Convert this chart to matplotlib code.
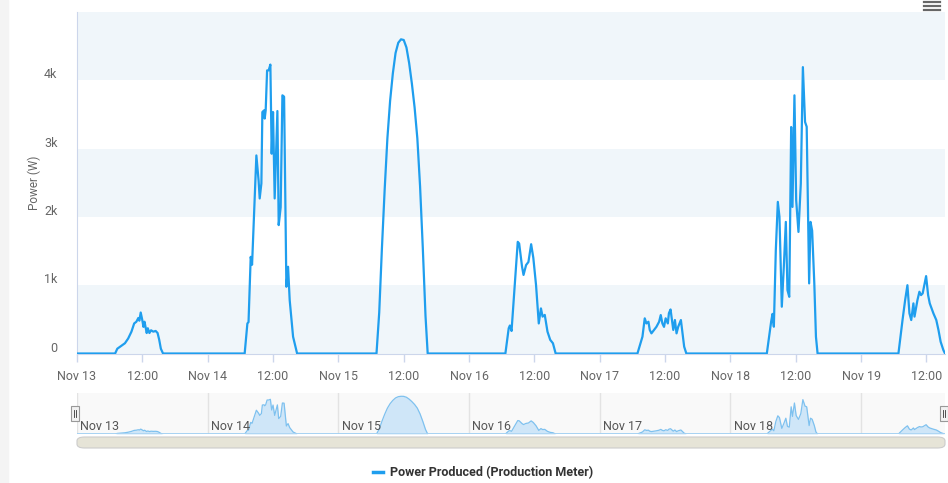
import numpy as np
import matplotlib
matplotlib.use('Agg')
import matplotlib.pyplot as plt
from matplotlib.patches import Rectangle, FancyBboxPatch
from matplotlib.lines import Line2D
from matplotlib.transforms import ScaledTranslation

plt.rcParams['font.family'] = ['Roboto', 'DejaVu Sans']

# ── DATA (hour of day, watts) ─────────────────────────────
DAY_LABELS = ['Nov 13', 'Nov 14', 'Nov 15', 'Nov 16', 'Nov 17', 'Nov 18', 'Nov 19']

nov13_h = [0, 7.0, 7.4, 8.8, 9.4, 10.0, 10.5, 10.9, 11.26, 11.45, 11.7, 11.99, 12.2, 12.4,
           12.8, 13.0, 13.3, 13.6, 14.0, 14.45, 14.8, 15.1, 15.4, 15.8]
nov13_w = [0, 0, 70, 150, 220, 320, 440, 465, 520, 480, 600, 490, 390, 465,
           300, 370, 300, 340, 320, 330, 300, 200, 70, 0]

nov14_h = [6.79, 7.29, 7.5, 7.90, 8.15, 8.94, 9.35, 9.55, 9.86, 10.04, 10.36, 10.47, 10.65,
           10.91, 11.20, 11.51, 11.75, 12.0, 12.30, 12.80, 13.04, 13.40, 13.72, 14.03,
           14.45, 14.76, 15.06, 15.68, 16.42]
nov14_w = [0, 440, 460, 1415, 1300, 2900, 2530, 2270, 2490, 3535, 3560, 3440, 3560,
           4145, 4145, 4230, 2925, 3535, 2270, 3550, 1880, 2140, 3780, 3760,
           977, 1270, 780, 246, 0]

nov15_h = [7.0, 7.5, 8.0, 8.5, 9.0, 9.5, 10.0, 10.5, 11.0, 11.5, 12.0, 12.5, 13.0,
           13.5, 14.0, 14.5, 15.0, 15.5, 16.0, 16.4]
nov15_w = [0, 600, 1550, 2400, 3150, 3700, 4100, 4400, 4550, 4600, 4590, 4480, 4250,
           3950, 3600, 3150, 2450, 1550, 550, 0]

nov16_h = [6.67, 7.28, 7.5, 7.8, 8.3, 8.94, 9.2, 9.73, 10.0, 10.47, 10.9, 11.4, 11.8,
           12.3, 12.8, 13.2, 13.5, 13.9, 14.4, 14.9, 15.4, 15.9]
nov16_w = [0, 370, 410, 330, 905, 1635, 1610, 1270, 1150, 1295, 1340, 1600, 1400,
           1000, 440, 660, 540, 565, 320, 200, 150, 0]

nov17_h = [6.92, 7.84, 8.26, 8.57, 8.94, 9.18, 9.49, 9.98, 10.4, 10.9, 11.2, 11.5, 11.8,
           12.1, 12.5, 12.7, 13.0, 13.5, 13.8, 14.1, 14.4, 14.9, 15.2, 15.5, 15.9]
nov17_w = [0, 246, 515, 440, 465, 345, 295, 345, 390, 465, 563, 440, 390,
           515, 440, 590, 645, 345, 490, 295, 390, 490, 295, 100, 0]

nov18_h = [6.68, 7.47, 7.72, 7.97, 8.33, 8.70, 9.0, 9.43, 9.8, 10.17, 10.47, 10.8, 11.15,
           11.39, 11.75, 12.07, 12.49, 12.92, 13.3, 13.7, 14.0, 14.45, 14.7, 15.0, 15.4,
           15.7, 16.0]
nov18_w = [0, 465, 580, 392, 1513, 2220, 2000, 685, 1270, 1927, 928, 830, 3316,
           2146, 3780, 2244, 1780, 2488, 4193, 3390, 3320, 1026, 1927, 1800, 1026,
           245, 0]

nov19_h = [6.85, 7.29, 7.6, 8.08, 8.5, 8.87, 9.2, 9.6, 9.8, 10.34, 10.7, 11.0, 11.3,
           11.93, 12.3, 12.6, 13.27, 13.8, 14.2, 14.6, 15.1, 15.4]
nov19_w = [0, 295, 490, 782, 1000, 588, 490, 734, 540, 782, 904, 855, 880,
           1133, 855, 734, 588, 490, 344, 172, 50, 0]

days = [(nov13_h, nov13_w), (nov14_h, nov14_w), (nov15_h, nov15_w), (nov16_h, nov16_w),
        (nov17_h, nov17_w), (nov18_h, nov18_w), (nov19_h, nov19_w)]
t = np.concatenate([np.array(h) + 24 * i for i, (h, _) in enumerate(days)])
w = np.concatenate([np.array(v, dtype=float) for _, v in days])

X_END = 159.4
LINE = '#1f9eee'
GRID = '#ccd6eb'
TXT = '#666666'

# ── FIGURE ────────────────────────────────────────────────
W, H = 948, 483
fig = plt.figure(figsize=(W / 100, H / 100), dpi=100, facecolor='white')
fig.patches.append(Rectangle((0, 0), 8 / W, 1, transform=fig.transFigure,
                             color='#f4f4f4', zorder=0))

def box(l, t_, r, b):
    return [l / W, 1 - b / H, (r - l) / W, (b - t_) / H]

# main chart
ax = fig.add_axes(box(77, 12, 945, 353.5))
ax.set_facecolor('white')
for lo in (0, 2000, 4000):
    ax.axhspan(lo, lo + 1000, color='#f0f6fa', lw=0, zorder=0)
ax.plot(t, w, color=LINE, lw=1.6, zorder=3, solid_joinstyle='round')
ax.set_xlim(0, X_END)
ax.set_ylim(0, 5000)

ax.set_yticks([0, 1000, 2000, 3000, 4000])
ax.set_yticklabels(['0', '1k', '2k', '3k', '4k'])
ax.tick_params(axis='y', length=0, pad=14, labelsize=9, labelcolor=TXT)
for lab in ax.get_yticklabels():
    lab.set_transform(lab.get_transform() + ScaledTranslation(0, 5 / 72, fig.dpi_scale_trans))

xt = np.arange(0, X_END, 12)
xl = [DAY_LABELS[i // 2] if i % 2 == 0 else '12:00' for i in range(len(xt))]
ax.set_xticks(xt)
ax.set_xticklabels(xl)
ax.tick_params(axis='x', length=6, width=1, color=GRID, pad=6, labelsize=9, labelcolor=TXT)
for s in ('top', 'right'):
    ax.spines[s].set_visible(False)
ax.spines['left'].set_color(GRID)
ax.spines['bottom'].set_color(GRID)
ax.set_ylabel('Power (W)', fontsize=8.5, color=TXT, labelpad=2.5)

# navigator
nav = fig.add_axes(box(77, 393, 945, 434))
nav.set_facecolor('#f9f9f9')
nav.fill_between(t, w, 0, color='#cfe6f8', lw=0)
nav.plot(t, w, color='#7ec1ef', lw=0.9)
nav.set_xlim(0, X_END)
nav.set_ylim(0, 5000)
for i, lab in enumerate(DAY_LABELS):
    nav.axvline(24 * i, color='#e3e3e3', lw=1, zorder=0)
    if i < 6:
        nav.text(24 * i + 0.6, 150, lab, fontsize=9, color='#555555', ha='left', va='bottom')
nav.set_xticks([]); nav.set_yticks([])
for s in nav.spines.values():
    s.set_visible(False)
nav.axhline(0, color='#a9d3f3', lw=1.2)

# navigator handles
for hx in (75, 944):
    fig.patches.append(Rectangle(((hx - 4) / W, 1 - 421 / H), 8 / W, 15 / H,
                                 transform=fig.transFigure, facecolor='#f2f2f2',
                                 edgecolor='#999999', lw=0.8, zorder=5))
    for dx in (-1.2, 1.2):
        fig.lines.append(Line2D([(hx + dx) / W] * 2, [1 - 417 / H, 1 - 410 / H],
                                transform=fig.transFigure, color='#333333', lw=0.6, zorder=6))

# scrollbar
fig.patches.append(FancyBboxPatch((77 / W, 1 - 448 / H), 868 / W, 11 / H,
                                  boxstyle='round,pad=0,rounding_size=0.008',
                                  transform=fig.transFigure, facecolor='#e6e4d7',
                                  edgecolor='#cccccc', lw=0.8, zorder=2))

# menu icon
for yy in (1.5, 5.5, 9.5):
    fig.lines.append(Line2D([924 / W, 940 / W], [1 - yy / H] * 2, transform=fig.transFigure,
                            color='#666666', lw=1.6))

# legend
handle = Line2D([], [], color=LINE, lw=2.5)
fig.legend([handle], ['Power Produced (Production Meter)'], loc='center',
           bbox_to_anchor=(483 / W, 1 - 473 / H), frameon=False, handlelength=0.8,
           handletextpad=0.5, prop={'weight': 'bold', 'size': 9}, labelcolor='#333333')

fig.savefig('out.png', dpi=100, facecolor='white')
